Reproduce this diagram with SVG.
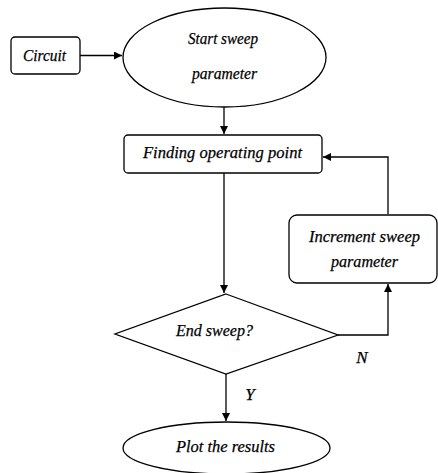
<svg xmlns="http://www.w3.org/2000/svg" width="438" height="473" viewBox="0 0 438 473">
<style>
.s{fill:#fff;stroke:#000;stroke-width:1.3}
.t{font-family:"Liberation Serif","Times New Roman",serif;font-style:italic;font-size:17px;fill:#000;text-anchor:middle;stroke:#000;stroke-width:0.25}
.c{fill:none;stroke:#000;stroke-width:1.3}
</style>
<defs>
<marker id="ah" markerWidth="8" markerHeight="8" refX="8" refY="4" orient="auto" markerUnits="userSpaceOnUse">
<path d="M0,0 L8,4 L0,8 Z" fill="#000"/>
</marker>
</defs>
<rect width="438" height="473" fill="#fff"/>
<g id="connectors">
<path class="c" d="M80,55.5 H122" marker-end="url(#ah)"/>
<path class="c" d="M224,107 V134" marker-end="url(#ah)"/>
<path class="c" d="M388,214 V157 H323" marker-end="url(#ah)"/>
<path class="c" d="M224,173 V293" marker-end="url(#ah)"/>
<path class="c" d="M338,335 H388 V284" marker-end="url(#ah)"/>
<path class="c" d="M226,374 V421" marker-end="url(#ah)"/>
</g>
<g id="circuit">
<rect class="s" x="11" y="37" width="69" height="37" rx="4"/>
<text class="t" x="44.5" y="61" textLength="43" lengthAdjust="spacingAndGlyphs">Circuit</text>
</g>
<g id="start">
<ellipse class="s" cx="224.5" cy="57.5" rx="101.5" ry="49.5"/>
<text class="t" x="223" y="44" textLength="70" lengthAdjust="spacingAndGlyphs">Start sweep</text>
<text class="t" x="224.5" y="79" textLength="65" lengthAdjust="spacingAndGlyphs">parameter</text>
</g>
<g id="finding">
<rect class="s" x="124" y="135" width="198" height="38" rx="4"/>
<text class="t" x="222.5" y="158" textLength="159" lengthAdjust="spacingAndGlyphs">Finding operating point</text>
</g>
<g id="increment">
<rect class="s" x="289" y="215" width="148" height="68" rx="8"/>
<text class="t" x="364.5" y="242" textLength="111" lengthAdjust="spacingAndGlyphs">Increment sweep</text>
<text class="t" x="364.5" y="267" textLength="67" lengthAdjust="spacingAndGlyphs">parameter</text>
</g>
<g id="endsweep">
<polygon class="s" points="226,294 338,335 226,374 115,334"/>
<text class="t" x="214.5" y="336" textLength="77" lengthAdjust="spacingAndGlyphs">End sweep?</text>
</g>
<g id="plot">
<ellipse class="s" cx="226.5" cy="448" rx="103.5" ry="26"/>
<text class="t" x="225.5" y="452" textLength="99" lengthAdjust="spacingAndGlyphs">Plot the results</text>
</g>
<text class="t" x="362" y="363">N</text>
<text class="t" x="250" y="400">Y</text>
</svg>
